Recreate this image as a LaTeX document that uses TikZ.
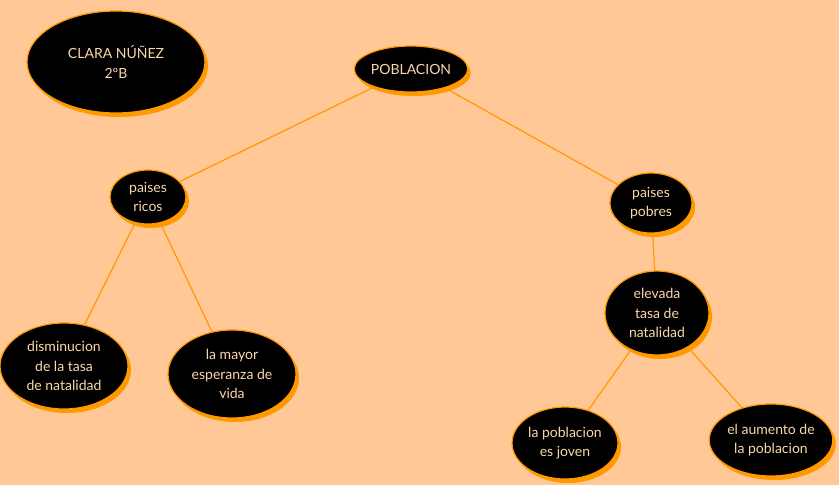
\documentclass[tikz,border=0pt]{standalone}
\usepackage{fontspec}
\setmainfont{Lato}
\usetikzlibrary{shapes.geometric,shadows,backgrounds}
\definecolor{bgc}{RGB}{255,200,150}
\definecolor{orn}{RGB}{255,153,0}
\definecolor{txt}{RGB}{250,215,170}
\begin{document}
\begin{tikzpicture}[x=1pt,y=-1pt,
  bub/.style={ellipse,draw=orn,line width=1.2pt,fill=black,text=txt,inner sep=0pt,
    align=center,font=\fontsize{14}{19.5}\selectfont,
    drop shadow={fill=orn,opacity=1,shadow xshift=3pt,shadow yshift=-4pt}},
  link/.style={draw=orn,line width=1.2pt}]
\useasboundingbox (0,0) rectangle (839,485);
\node[bub,minimum width=178,minimum height=102] (clara) at (116,62) {CLARA NÚÑEZ\\2ºB};
\node[bub,minimum width=104,minimum height=46] (pob) at (411,69) {POBLACION};
\node[bub,minimum width=76,minimum height=54] (ricos) at (148,197) {paises\\ricos};
\node[bub,minimum width=82,minimum height=60] (pobres) at (651,203) {paises\\pobres};
\node[bub,minimum width=128,minimum height=86] (dism) at (64,366) {disminucion\\de la tasa\\de natalidad};
\node[bub,minimum width=128,minimum height=88] (mayor) at (232,374) {la mayor\\esperanza de\\vida};
\node[bub,minimum width=104,minimum height=84] (elev) at (657,313) {elevada\\tasa de\\natalidad};
\node[bub,minimum width=106,minimum height=72] (joven) at (565,443) {la poblacion\\es joven};
\node[bub,minimum width=120,minimum height=72] (aum) at (771,440) {el aumento de\\la poblacion};
\begin{scope}[on background layer]
\fill[bgc] (0,0) rectangle (839,485);
\draw[link] (pob) -- (ricos);
\draw[link] (pob) -- (pobres);
\draw[link] (ricos) -- (dism);
\draw[link] (ricos) -- (mayor);
\draw[link] (pobres) -- (elev);
\draw[link] (elev) -- (joven);
\draw[link] (elev) -- (aum);
\end{scope}
\end{tikzpicture}
\end{document}
